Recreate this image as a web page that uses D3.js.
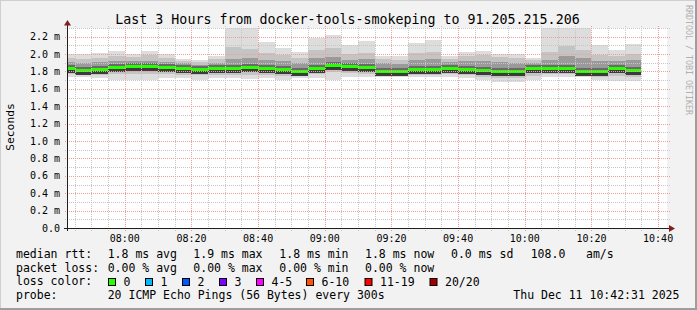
<!DOCTYPE html>
<html>
<head>
<meta charset="utf-8">
<script src="https://cdn.jsdelivr.net/npm/d3@7"></script>
<style>
  body { margin: 0; background: #f2f2f2; }
  svg { display: block; }
  text { font-family: "DejaVu Sans Mono", monospace; fill: #000; }
</style>
</head>
<body>
<svg id="chart" width="697" height="310"></svg>
<script>
// smokeping round trip times, one column every 5 minutes, values in ms
const pingMax = [2.00, 2.00, 2.01, 2.03, 2.00, 2.04, 2.00, 1.94, 1.93, 1.98,
  2.45, 2.40, 2.14, 2.07, 2.02, 2.19, 2.22, 2.10, 2.15, 1.98,
  1.98, 2.13, 2.16, 1.98, 2.02, 2.04, 2.00, 2.00, 1.96, 2.38,
  2.50, 2.42, 2.10, 2.05, 2.12]
const pingP85 = [1.955, 1.943, 1.955, 1.978, 1.966, 1.984, 1.955, 1.921, 1.909, 1.943,
  2.081, 2.058, 2.012, 1.989, 1.955, 2.047, 2.070, 2.001, 2.012, 1.938,
  1.932, 2.012, 2.024, 1.949, 1.978, 1.984, 1.961, 1.955, 1.932, 2.024,
  2.093, 2.047, 1.989, 1.978, 2.001]
const pingP70 = [1.909, 1.897, 1.909, 1.921, 1.921, 1.926, 1.909, 1.892, 1.880, 1.897,
  1.943, 1.955, 1.932, 1.921, 1.897, 1.955, 1.966, 1.932, 1.938, 1.897,
  1.886, 1.932, 1.943, 1.909, 1.921, 1.921, 1.909, 1.897, 1.897, 1.932,
  1.978, 1.955, 1.921, 1.921, 1.932]
const median = [1.836, 1.817, 1.834, 1.851, 1.859, 1.859, 1.851, 1.836, 1.828, 1.836,
  1.836, 1.848, 1.840, 1.826, 1.808, 1.842, 1.878, 1.859, 1.849, 1.809,
  1.809, 1.831, 1.831, 1.843, 1.831, 1.815, 1.808, 1.805, 1.836, 1.843,
  1.843, 1.811, 1.811, 1.836, 1.813]
const pingP30 = [1.800, 1.782, 1.794, 1.811, 1.817, 1.817, 1.811, 1.800, 1.788, 1.800,
  1.800, 1.805, 1.800, 1.788, 1.777, 1.805, 1.834, 1.817, 1.811, 1.777,
  1.777, 1.794, 1.794, 1.805, 1.794, 1.777, 1.765, 1.765, 1.788, 1.805,
  1.805, 1.782, 1.777, 1.794, 1.777]
const pingP15 = [1.771, 1.754, 1.759, 1.771, 1.771, 1.771, 1.771, 1.765, 1.754, 1.765,
  1.765, 1.765, 1.765, 1.748, 1.748, 1.771, 1.794, 1.777, 1.771, 1.754,
  1.754, 1.765, 1.765, 1.771, 1.759, 1.736, 1.725, 1.725, 1.748, 1.771,
  1.771, 1.754, 1.742, 1.748, 1.736]
const pingMin = [1.733, 1.733, 1.725, 1.702, 1.702, 1.702, 1.725, 1.725, 1.702, 1.725,
  1.725, 1.710, 1.725, 1.702, 1.725, 1.725, 1.702, 1.733, 1.733, 1.733,
  1.733, 1.733, 1.733, 1.733, 1.721, 1.702, 1.675, 1.675, 1.702, 1.733,
  1.733, 1.733, 1.702, 1.694, 1.694]
const loss = [0, 0, 0, 0, 0, 0, 0, 0, 0, 0, 0, 0, 0, 0, 0, 0, 0, 0, 0, 0,
  0, 0, 0, 0, 0, 0, 0, 0, 0, 0, 0, 0, 0, 0, 0]

const lossLabels = ['0', '1', '2', '3', '4-5', '6-10', '11-19', '20/20']
const lossColors = ['#26ff00', '#00b8ff', '#0059ff', '#7e00ff', '#ff00ff', '#ff5500', '#ff0000', '#a10000']

const yTicks = [0, 0.2, 0.4, 0.6, 0.8, 1.0, 1.2, 1.4, 1.6, 1.8, 2.0, 2.2]

const statRtt = ['1.8 ms avg', '1.9 ms max', '1.8 ms min', '1.8 ms now', '0.0 ms sd', '108.0', 'am/s']
const statLoss = ['0.00 % avg', '0.00 % max', '0.00 % min', '0.00 % now']

const title = 'Last 3 Hours from docker-tools-smokeping to 91.205.215.206'
const probeText = '20 ICMP Echo Pings (56 Bytes) every 300s'
const stamp = 'Thu Dec 11 10:42:31 2025'

const start = new Date(2025, 11, 11, 7, 42, 40)
const end = new Date(2025, 11, 11, 10, 42, 40)
const firstSlot = new Date(2025, 11, 11, 7, 40, 0)
const STEP = 5 * 60 * 1000

const plot = { left: 67, right: 667, top: 28, bottom: 228 }

const svg = d3.select('#chart')

const x = d3.scaleTime().domain([start, end]).range([plot.left, plot.right])
const y = d3.scaleLinear().domain([0, 2.3]).range([plot.bottom, plot.top])

// background + 3d frame
svg.append('rect').attr('width', 697).attr('height', 310).attr('fill', '#f2f2f2')
svg.append('rect').attr('x', 0).attr('y', 0).attr('width', 697).attr('height', 1).attr('fill', '#cfcfcf')
svg.append('rect').attr('x', 0).attr('y', 0).attr('width', 1).attr('height', 310).attr('fill', '#cfcfcf')
svg.append('rect').attr('x', 695).attr('y', 0).attr('width', 2).attr('height', 310).attr('fill', '#9e9e9e')
svg.append('rect').attr('x', 0).attr('y', 308).attr('width', 697).attr('height', 2).attr('fill', '#9e9e9e')

// canvas
svg.append('rect')
  .attr('x', plot.left).attr('y', plot.top)
  .attr('width', plot.right - plot.left).attr('height', plot.bottom - plot.top)
  .attr('fill', '#ffffff')

svg.append('clipPath').attr('id', 'plotclip')
  .append('rect')
  .attr('x', plot.left).attr('y', plot.top)
  .attr('width', plot.right - plot.left).attr('height', plot.bottom - plot.top)

const g = svg.append('g').attr('clip-path', 'url(#plotclip)').attr('shape-rendering', 'crispEdges')

const cols = median.map(function (m, i) {
  return {
    t0: new Date(+firstSlot + i * STEP),
    t1: new Date(+firstSlot + (i + 1) * STEP),
    i: i
  }
})

function colX (d) { return Math.round(x(d.t0)) }
function colW (d) { return Math.round(x(d.t1)) - Math.round(x(d.t0)) }

// smoke layers, outermost first
const layers = [
  { lo: pingMin, hi: pingMax, color: '#dddddd' },
  { lo: pingP15, hi: pingP85, color: '#c4c4c4' },
  { lo: pingP30, hi: pingP70, color: '#9a9a9a' }
]

layers.forEach(function (layer) {
  g.selectAll(null).data(cols).enter().append('rect')
    .attr('x', colX)
    .attr('width', colW)
    .attr('y', function (d) { return Math.round(y(layer.hi[d.i])) })
    .attr('height', function (d) { return Math.round(y(layer.lo[d.i])) - Math.round(y(layer.hi[d.i])) })
    .attr('fill', layer.color)
})

// dense core around the median
g.selectAll(null).data(cols).enter().append('rect')
  .attr('x', colX)
  .attr('width', colW)
  .attr('y', function (d) { return Math.round(y(median[d.i])) - 3 })
  .attr('height', 3)
  .attr('fill', '#6a6a6a')
g.selectAll(null).data(cols).enter().append('rect')
  .attr('x', colX)
  .attr('width', colW)
  .attr('y', function (d) { return Math.round(y(median[d.i])) + 1 })
  .attr('height', 4)
  .attr('fill', '#3c3c3c')

// median, coloured by loss
g.selectAll(null).data(cols).enter().append('rect')
  .attr('x', colX)
  .attr('width', colW)
  .attr('y', function (d) { return Math.round(y(median[d.i])) - 1 })
  .attr('height', 3)
  .attr('fill', function (d) { return lossColors[loss[d.i]] })

// grid on top of the smoke, drawn as single pixel dots
const grid = svg.append('g').attr('shape-rendering', 'crispEdges')
const minorT = d3.timeMinute.every(5).range(start, end)
const majorT = d3.timeMinute.every(20).range(start, end)
const minorV = d3.range(1, 24).map(function (k) { return k / 10 })
const majorV = yTicks.filter(function (v) { return v > 0 })

function dotsH (py) {
  let s = ''
  for (let px = plot.left - 2; px <= plot.right + 2; px += 2) s += 'M' + px + ',' + py + 'h1v1h-1z'
  return s
}
function dotsV (px) {
  let s = ''
  for (let py = plot.top - 2; py <= plot.bottom + 2; py += 2) s += 'M' + px + ',' + py + 'h1v1h-1z'
  return s
}
function hLines (vals, color) {
  grid.append('path')
    .attr('d', vals.map(function (v) { return dotsH(Math.round(y(v))) }).join(''))
    .attr('fill', color)
}
function vLines (vals, color) {
  grid.append('path')
    .attr('d', vals.map(function (t) { return dotsV(Math.round(x(t))) }).join(''))
    .attr('fill', color)
}
hLines(minorV, '#c6c6c6')
vLines(minorT, '#c6c6c6')
hLines(majorV, '#ee9c9c')
vLines(majorT, '#ee9c9c')

// axes with arrows
grid.append('rect').attr('x', plot.left).attr('width', 1)
  .attr('y', 24).attr('height', plot.bottom + 3 - 24).attr('fill', '#1f1f1f')
grid.append('rect').attr('x', plot.left - 3).attr('width', 670 - plot.left + 3)
  .attr('y', plot.bottom).attr('height', 1).attr('fill', '#1f1f1f')
svg.append('path').attr('d', 'M64,25.5 L67.5,20 L71,25.5 Z').attr('fill', '#7f1f1f')
svg.append('path').attr('d', 'M669,225 L675,228.5 L669,232 Z').attr('fill', '#7f1f1f')

// axis labels
svg.append('g').selectAll('text').data(yTicks).enter().append('text')
  .attr('x', 60).attr('y', function (d) { return y(d) + 3.5 })
  .attr('text-anchor', 'end').style('font-size', '10px')
  .text(function (d) { return d === 0 ? '0.0' : d.toFixed(1) + ' m' })

svg.append('g').selectAll('text').data(majorT).enter().append('text')
  .attr('x', function (d) { return x(d) }).attr('y', 241.5)
  .attr('text-anchor', 'middle').style('font-size', '10px')
  .text(d3.timeFormat('%H:%M'))

svg.append('text')
  .attr('transform', 'translate(14,127) rotate(-90)')
  .attr('text-anchor', 'middle').style('font-size', '11.3px')
  .text('Seconds')

svg.append('text')
  .attr('x', 347.5).attr('y', 24).attr('text-anchor', 'middle')
  .style('font-size', '13.3px')
  .text(title)

svg.append('text')
  .attr('transform', 'translate(686,5) rotate(90)')
  .style('font-size', '8.3px').style('fill', '#b0b0b0')
  .text('RRDTOOL / TOBI OETIKER')

// legend
const leg = svg.append('g').style('font-size', '11.5px')
const statX = [107.7, 193.3, 279.3, 365, 451, 530.7, 586]
leg.append('text').attr('x', 16).attr('y', 258).text('median rtt:')
statRtt.forEach(function (s, i) {
  leg.append('text').attr('x', statX[i]).attr('y', 258).text(s)
})
leg.append('text').attr('x', 16).attr('y', 271.5).text('packet loss:')
statLoss.forEach(function (s, i) {
  leg.append('text').attr('x', statX[i]).attr('y', 271.5).text(s)
})
leg.append('text').attr('x', 16).attr('y', 285).text('loss color:')
const boxX = [108.5, 145.5, 182.5, 219.5, 256.5, 306.5, 365, 430]
lossLabels.forEach(function (lab, i) {
  leg.append('rect')
    .attr('x', boxX[i]).attr('y', 278.5).attr('width', 7).attr('height', 7)
    .attr('fill', lossColors[i]).attr('stroke', '#000').attr('stroke-width', 1)
  leg.append('text').attr('x', boxX[i] + 15).attr('y', 285.5).text(lab)
})
leg.append('text').attr('x', 16).attr('y', 299).text('probe:')
leg.append('text').attr('x', 107.7).attr('y', 299).text(probeText)
leg.append('text').attr('x', 513.3).attr('y', 299).text(stamp)
</script>
</body>
</html>
